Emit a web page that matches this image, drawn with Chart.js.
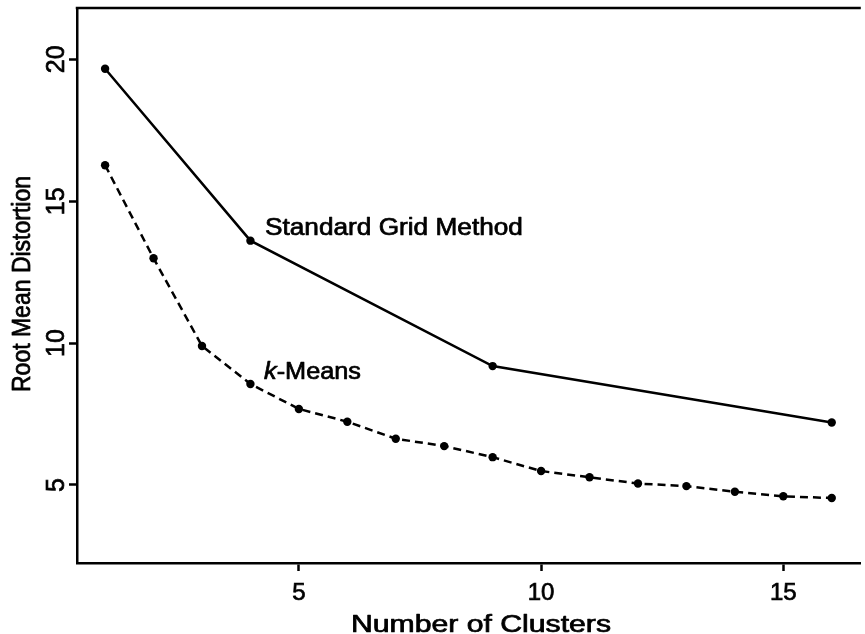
<!DOCTYPE html>
<html>
<head>
<meta charset="utf-8">
<style>
  html, body { margin: 0; padding: 0; background: #ffffff; }
  #wrap { width: 865px; height: 634px; }
</style>
<script src="https://cdn.jsdelivr.net/npm/chart.js@4"></script>
</head>
<body>
<div id="wrap"><canvas id="c" width="865" height="634"></canvas></div>
<script>
// ---- data ----
const kmeansClusters = [1, 2, 3, 4, 5, 6, 7, 8, 9, 10, 11, 12, 13, 14, 15, 16];
const kmeansRMD = [16.27, 12.99, 9.90, 8.56, 7.68, 7.23, 6.63, 6.37, 5.98, 5.49, 5.27, 5.05, 4.96, 4.76, 4.60, 4.54];
const gridClusters = [1, 4, 9, 16];
const gridRMD = [19.67, 13.61, 9.19, 7.20];
const xTickValues = [5, 10, 15];
const yTickValues = [5, 10, 15, 20];
const xTitle = 'Number of Clusters';
const yTitle = 'Root Mean Distortion';
const seriesLabels = ['Standard Grid Method', 'k-Means'];

const FONT = "'Liberation Sans', Arial, Helvetica, sans-serif";
const TEXT_STROKE = 0.7;

const toPoints = (xs, ys) => xs.map((x, i) => ({ x: x, y: ys[i] }));

// text drawn on the canvas: axis titles and in-plot labels
const textPlugin = {
  id: 'texts',
  afterDraw(chart) {
    const ctx = chart.ctx;
    const xs = chart.scales.x, ys = chart.scales.y;
    const ca = chart.chartArea;
    ctx.save();
    ctx.fillStyle = '#000';
    ctx.strokeStyle = '#000';
    // top border of the plot box
    ctx.lineWidth = 2.5;
    ctx.beginPath();
    ctx.moveTo(ca.left - 1.25, ca.top);
    ctx.lineTo(ca.right, ca.top);
    ctx.stroke();

    function drawText(t, x, y) {
      ctx.lineWidth = TEXT_STROKE;
      ctx.lineJoin = 'round';
      ctx.strokeText(t, x, y);
      ctx.fillText(t, x, y);
    }

    // stretched text helper
    function stretched(parts, px, py, targetW, align) {
      let total = 0;
      parts.forEach(p => { ctx.font = p.font; total += ctx.measureText(p.text).width; });
      const sx = targetW / total;
      let startX = px;
      if (align === 'center') startX = px - targetW / 2;
      ctx.save();
      ctx.translate(startX, py);
      ctx.scale(sx, 1);
      ctx.textBaseline = 'alphabetic';
      ctx.textAlign = 'left';
      let cx = 0;
      parts.forEach(p => {
        ctx.font = p.font;
        drawText(p.text, cx, 0);
        cx += ctx.measureText(p.text).width;
      });
      ctx.restore();
    }

    // in-plot labels, anchored in data coordinates
    stretched([{ text: seriesLabels[0], font: '23px ' + FONT }],
      xs.getPixelForValue(4.30), ys.getPixelForValue(13.81), 258, 'left');
    stretched([{ text: 'k', font: 'italic 23px ' + FONT }, { text: '-Means', font: '23px ' + FONT }],
      xs.getPixelForValue(4.28), ys.getPixelForValue(8.72), 97, 'left');

    // x axis title
    stretched([{ text: xTitle, font: '23px ' + FONT }], 481, 632, 260, 'center');

    // y axis title (rotated)
    ctx.save();
    ctx.translate(30, 284);
    ctx.rotate(-Math.PI / 2);
    ctx.scale(1, 1.1);
    ctx.font = '23px ' + FONT;
    ctx.textAlign = 'center';
    ctx.textBaseline = 'alphabetic';
    drawText(yTitle, 0, 0);
    ctx.restore();

    ctx.restore();
  }
};

function noPad(s) {
  s.paddingTop = 0; s.paddingBottom = 0; s.paddingLeft = 0; s.paddingRight = 0;
}

new Chart(document.getElementById('c'), {
  type: 'line',
  data: {
    datasets: [
      {
        label: seriesLabels[0],
        data: toPoints(gridClusters, gridRMD),
        borderColor: '#000',
        backgroundColor: '#000',
        borderWidth: 2.5,
        pointRadius: 4.2,
        pointBorderWidth: 0,
        pointBackgroundColor: '#000',
        tension: 0,
        fill: false
      },
      {
        label: seriesLabels[1],
        data: toPoints(kmeansClusters, kmeansRMD),
        borderColor: '#000',
        backgroundColor: '#000',
        borderWidth: 2.5,
        borderDash: [8, 5],
        pointRadius: 4.2,
        pointBorderWidth: 0,
        pointBackgroundColor: '#000',
        tension: 0,
        fill: false
      }
    ]
  },
  options: {
    responsive: false,
    animation: false,
    layout: { padding: { top: 8, right: 0, left: 0, bottom: 0 } },
    plugins: { legend: { display: false }, tooltip: { enabled: false } },
    scales: {
      x: {
        type: 'linear',
        position: 'bottom',
        min: 0.42,
        max: 16.60,
        afterBuildTicks: s => { s.ticks = xTickValues.map(v => ({ value: v })); },
        afterFit: s => { s.height = 71; noPad(s); },
        grid: { display: true, drawOnChartArea: false, drawTicks: true, tickLength: 8, tickColor: '#000', tickWidth: 2.5, color: '#000' },
        border: { display: true, color: '#000', width: 2.5 },
        ticks: {
          color: '#000',
          font: { family: FONT, size: 24 },
          padding: 8,
          maxRotation: 0,
          minRotation: 0,
          autoSkip: false,
          textStrokeColor: '#000',
          textStrokeWidth: TEXT_STROKE,
          callback: v => String(v)
        }
      },
      y: {
        type: 'linear',
        position: 'left',
        min: 2.25,
        max: 21.81,
        afterBuildTicks: s => { s.ticks = yTickValues.map(v => ({ value: v })); },
        afterFit: s => { s.width = 77; noPad(s); },
        grid: { display: true, drawOnChartArea: false, drawTicks: true, tickLength: 8, tickColor: '#000', tickWidth: 2.5, color: '#000' },
        border: { display: true, color: '#000', width: 2.5 },
        ticks: {
          color: '#000',
          font: { family: FONT, size: 25 },
          padding: -2,
          minRotation: 90,
          maxRotation: 90,
          crossAlign: 'center',
          autoSkip: false,
          textStrokeColor: '#000',
          textStrokeWidth: TEXT_STROKE,
          callback: v => String(v)
        }
      }
    }
  },
  plugins: [textPlugin]
});
</script>
</body>
</html>
